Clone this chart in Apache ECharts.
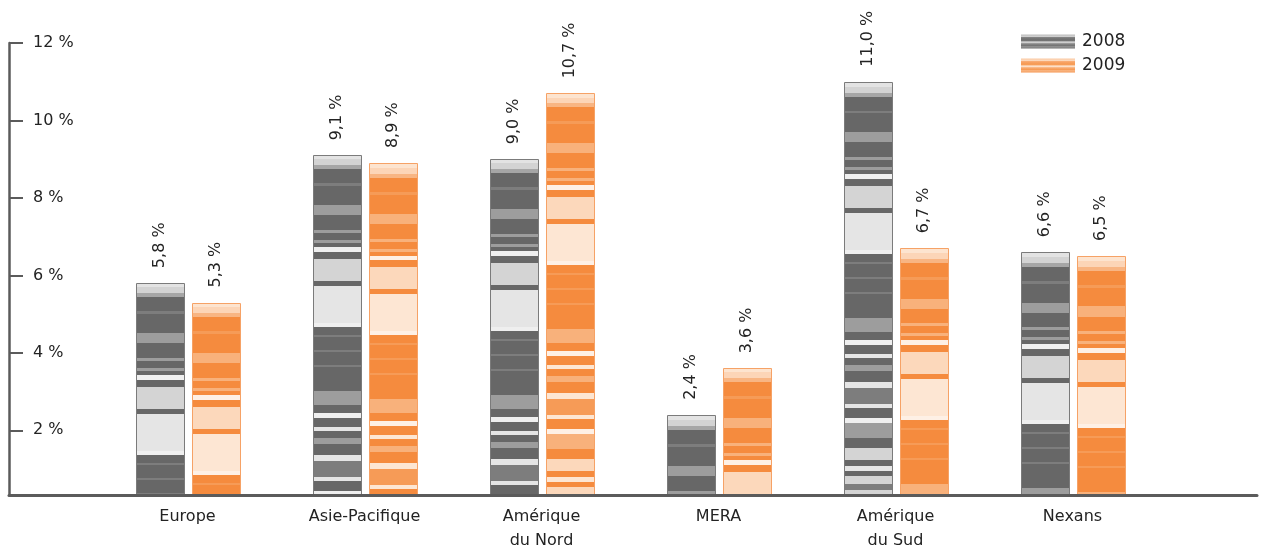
<!DOCTYPE html>
<html>
<head>
<meta charset="utf-8">
<script src="https://cdn.jsdelivr.net/npm/echarts@6/dist/echarts.min.js"></script>
<style>
  html, body { margin: 0; padding: 0; background: #ffffff; }
  #chart { width: 1262px; height: 549px; }
</style>
</head>
<body>
<div id="chart"></div>
<script>
// Operating margin by region, 2008 vs 2009 (%)
const categories = ['Europe', 'Asie-Pacifique', 'Amérique\ndu Nord', 'MERA', 'Amérique\ndu Sud', 'Nexans'];
const years = ['2008', '2009'];
const values2008 = [5.8, 9.1, 9.0, 2.4, 11.0, 6.6];
const values2009 = [5.3, 8.9, 10.7, 3.6, 6.7, 6.5];
const yTicks = [2, 4, 6, 8, 10, 12];

// ---- styling ----
const FONT = '"DejaVu Sans", "Noto Sans", sans-serif';
const AXIS_COLOR = '#5b5b5b';
const TEXT_COLOR = '#232323';
const Y_MIN = 0.33;
const Y_MAX = 12;
const BAR_W = 48;
const BAR_GAP = 8;

// Striped bar texture, in pixels from the top of each bar: [start, end, tone]
const STRIPES = [
  [0, 4, 'c0'], [4, 10, 'c1'], [10, 14, 'c2'],
  [14, 28, 0], [28, 31, 1], [31, 50, 0], [50, 60, 2], [60, 75, 0], [75, 78, 2],
  [78, 85, 0], [85, 88, 2], [88, 92, 0], [92, 97, 5], [97, 104, 0], [104, 126, 3],
  [126, 131, 0], [131, 168, 4], [168, 172, 5], [172, 180, 0], [180, 182, 1],
  [182, 195, 0], [195, 197, 1], [197, 210, 0], [210, 212, 1], [212, 236, 0],
  [236, 250, 2], [250, 258, 0], [258, 263, 5], [263, 272, 0], [272, 276, 4],
  [276, 283, 0], [283, 289, 2], [289, 300, 0], [300, 306, 4], [306, 322, 1],
  [322, 326, 4], [326, 336, 0], [336, 341, 5], [341, 356, 2], [356, 366, 0],
  [366, 378, 3], [378, 384, 0], [384, 389, 4], [389, 394, 0], [394, 402, 3],
  [402, 408, 1], [408, 420, 3]
];
const STRIPE_LEN = 420;

const GRAY_TONES = {
  c0: '#e3e3e3', c1: '#d3d3d3', c2: '#a6a6a6',
  0: '#676767', 1: '#7d7d7d', 2: '#9d9d9d', 3: '#d4d4d4', 4: '#e5e5e5', 5: '#efefef'
};
const ORANGE_TONES = {
  c0: '#fde4cf', c1: '#fcd5b7', c2: '#f8b583',
  0: '#f58b3e', 1: '#f69b57', 2: '#f8b17b', 3: '#fcd8bb', 4: '#fde6d3', 5: '#fef0e5'
};

function stripeStops(tones) {
  const stops = [];
  STRIPES.forEach(function (s) {
    const c = tones[s[2]];
    stops.push({ offset: s[0] / STRIPE_LEN, color: c });
    stops.push({ offset: s[1] / STRIPE_LEN, color: c });
  });
  return stops;
}

const LEGEND_GRAY = new echarts.graphic.LinearGradient(0, 0, 0, 1, [
  { offset: 0, color: '#bdbdbd' }, { offset: 0.15, color: '#cfcfcf' },
  { offset: 0.22, color: '#7a7a7a' }, { offset: 0.42, color: '#6c6c6c' },
  { offset: 0.5, color: '#b4b4b4' }, { offset: 0.58, color: '#d2d2d2' },
  { offset: 0.66, color: '#8a8a8a' }, { offset: 0.8, color: '#737373' },
  { offset: 0.88, color: '#9a9a9a' }, { offset: 1, color: '#6d6d6d' }
]);
const LEGEND_ORANGE = new echarts.graphic.LinearGradient(0, 0, 0, 1, [
  { offset: 0, color: '#fbcaa4' }, { offset: 0.15, color: '#fcd9bd' },
  { offset: 0.22, color: '#f8a66a' }, { offset: 0.42, color: '#f6984f' },
  { offset: 0.5, color: '#fbc9a1' }, { offset: 0.58, color: '#fde2cc' },
  { offset: 0.66, color: '#f8ad74' }, { offset: 0.8, color: '#f69a53' },
  { offset: 0.88, color: '#f9bb8c' }, { offset: 1, color: '#f5914a' }
]);

function formatPct(v) {
  return v.toFixed(1).replace('.', ',') + ' %';
}

function makeBarRenderer(side, tones, border) {
  const stops = stripeStops(tones);
  return function (params, api) {
    const idx = api.value(0);
    const val = api.value(1);
    const pt = api.coord([idx, val]);
    const cs = params.coordSys;
    const bottom = cs.y + cs.height;
    const cx = pt[0] + side * (BAR_W / 2 + BAR_GAP / 2);
    const x = Math.round(cx - BAR_W / 2) + 0.5;
    const y = Math.round(pt[1]) + 0.5;
    const fill = new echarts.graphic.LinearGradient(0, y, 0, y + STRIPE_LEN, stops, true);
    return {
      type: 'group',
      children: [
        {
          type: 'rect',
          shape: { x: x, y: y, width: BAR_W, height: bottom - y },
          style: { fill: fill, stroke: border, lineWidth: 1 }
        },
        {
          type: 'text',
          x: cx,
          y: pt[1] - 15,
          rotation: Math.PI / 2,
          style: {
            text: formatPct(val),
            font: '16px ' + FONT,
            fill: TEXT_COLOR,
            align: 'left',
            verticalAlign: 'middle'
          }
        }
      ]
    };
  };
}

const chart = echarts.init(document.getElementById('chart'), null, { renderer: 'canvas' });

chart.setOption({
  backgroundColor: '#ffffff',
  animation: false,
  textStyle: { fontFamily: FONT },
  legend: {
    orient: 'vertical',
    left: 1016,
    top: 28,
    icon: 'rect',
    itemWidth: 54,
    itemHeight: 14,
    itemGap: 7,
    textStyle: { fontSize: 17, color: TEXT_COLOR, fontFamily: FONT, padding: [0, 0, 0, 2] },
    data: [
      { name: years[0], itemStyle: { color: LEGEND_GRAY } },
      { name: years[1], itemStyle: { color: LEGEND_ORANGE } }
    ]
  },
  grid: [
    // frame: carries the value axis and the baseline
    { left: 9, right: 5, top: 43, bottom: 54, outerBoundsMode: 'none', containLabel: false },
    // bars: category bands
    { left: 99, right: 101, top: 43, bottom: 54, outerBoundsMode: 'none', containLabel: false }
  ],
  xAxis: [
    {
      gridIndex: 0, type: 'value', min: 0, max: 1, z: 5,
      axisLine: { show: true, onZero: false, lineStyle: { color: AXIS_COLOR, width: 3 } },
      axisTick: { show: false }, axisLabel: { show: false }, splitLine: { show: false }
    },
    {
      gridIndex: 1, type: 'category', data: categories, boundaryGap: true,
      axisLine: { show: false }, axisTick: { show: false }, splitLine: { show: false },
      axisLabel: {
        interval: 0, margin: 10, color: TEXT_COLOR, fontSize: 16, lineHeight: 24, fontFamily: FONT
      }
    }
  ],
  yAxis: [
    {
      gridIndex: 0, type: 'value', min: Y_MIN, max: Y_MAX,
      axisLine: { show: true, lineStyle: { color: AXIS_COLOR, width: 2.5 } },
      axisTick: { show: true, inside: true, length: 14, customValues: yTicks, lineStyle: { color: AXIS_COLOR, width: 2 } },
      axisLabel: {
        inside: true, margin: 24, customValues: yTicks, color: TEXT_COLOR, fontSize: 16, fontFamily: FONT,
        formatter: function (v) { return v + ' %'; }
      },
      splitLine: { show: false }
    },
    {
      gridIndex: 1, type: 'value', min: Y_MIN, max: Y_MAX, show: false,
      splitLine: { show: false }
    }
  ],
  series: [
    {
      name: years[0], type: 'custom', xAxisIndex: 1, yAxisIndex: 1,
      itemStyle: { color: LEGEND_GRAY },
      encode: { x: 0, y: 1 },
      data: values2008.map(function (v, i) { return [i, v]; }),
      renderItem: makeBarRenderer(-1, GRAY_TONES, '#7b7b7b')
    },
    {
      name: years[1], type: 'custom', xAxisIndex: 1, yAxisIndex: 1,
      itemStyle: { color: LEGEND_ORANGE },
      encode: { x: 0, y: 1 },
      data: values2009.map(function (v, i) { return [i, v]; }),
      renderItem: makeBarRenderer(1, ORANGE_TONES, '#f6a266')
    }
  ]
});
</script>
</body>
</html>
